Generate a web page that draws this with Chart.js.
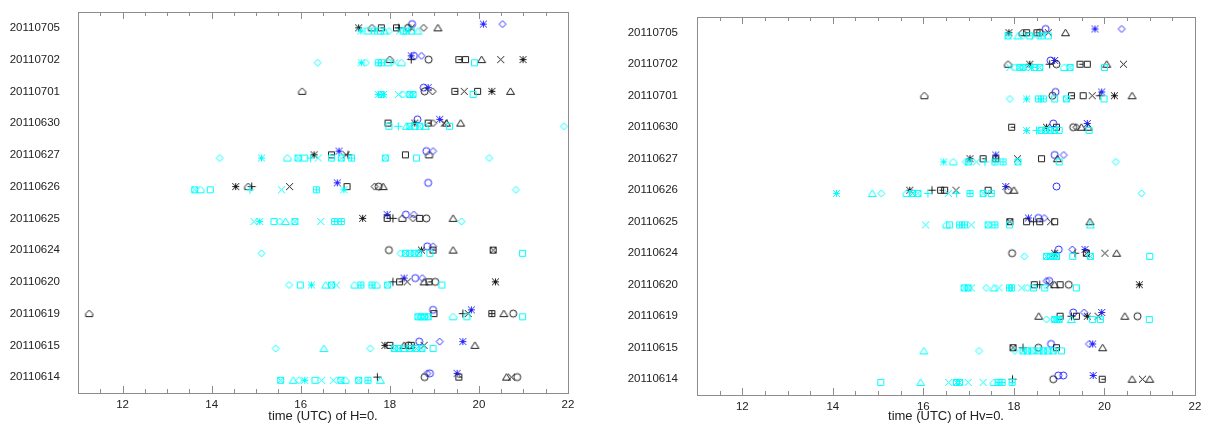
<!DOCTYPE html>
<html lang="en">
   <head>
      <meta charset="UTF-8" />
      <title>Time of H=0 and Hv=0</title>
      <script src="https://cdn.jsdelivr.net/npm/chart.js"></script>
      <style>
         body {
            margin: 0;
            background: #fff;
            overflow: hidden;
         }
         .panel {
            position: absolute;
            top: 0;
            width: 609px;
            height: 423px;
         }
         .a {
            left: 0;
         }
         .b {
            left: 609px;
         }
      </style>
   </head>
   <body>
      <div class="panel a"><canvas id="chartH" width="609" height="423"></canvas></div>
      <div class="panel b"><canvas id="chartHv" width="609" height="423"></canvas></div>
      <script>
         const dates = ['20110705', '20110702', '20110701', '20110630', '20110627', '20110626',
                        '20110625', '20110624', '20110620', '20110619', '20110615', '20110614'];
         const xTicks = [12, 14, 16, 18, 20, 22];

         // time (UTC) of H=0, per date: [symbol, hour]
         const hBlack = [
            ['20110705', [['ast', 17.30], ['house', 17.60], ['sqh', 17.81], ['sqh', 18.15], ['plus', 18.2], ['o', 18.41], ['x', 18.48], ['dia', 18.76], ['tri', 19.08]]],
            ['20110702', [['house', 18.0], ['plus', 18.48], ['o', 18.87], ['sqh', 19.55], ['sq', 19.70], ['tri', 20.06], ['x', 20.49], ['ast', 20.99]]],
            ['20110701', [['house', 16.03], ['o', 18.78], ['dia', 18.96], ['sqh', 19.46], ['x', 19.67], ['sq', 19.97], ['ast', 20.29], ['tri', 20.71]]],
            ['20110630', [['sqh', 17.96], ['ast', 18.56], ['sqh', 18.86], ['dia', 18.97], ['x', 19.22], ['tri', 19.27], ['tri', 19.59]]],
            ['20110627', [['ast', 16.30], ['sqh', 16.69], ['x', 17.02], ['plus', 17.06], ['sq', 18.35], ['house', 18.88]]],
            ['20110626', [['ast', 14.54], ['house', 14.82], ['plus', 14.90], ['x', 15.75], ['sq', 17.04], ['dia', 17.66], ['o', 17.75], ['tri', 17.85]]],
            ['20110625', [['ast', 17.39], ['sqh', 17.94], ['plus', 18.07], ['house', 18.28], ['dia', 18.52], ['sq', 18.67], ['o', 18.82], ['tri', 19.42]]],
            ['20110624', [['o', 17.98], ['ast', 18.71], ['sqh', 18.97], ['tri', 19.42], ['sqx', 20.32]]],
            ['20110620', [['plus', 18.07], ['sqh', 18.22], ['x', 18.39], ['tri', 18.77], ['sqh', 18.88], ['o', 19.02], ['ast', 20.37]]],
            ['20110619', [['house', 11.25], ['sq', 18.99], ['plus', 19.64], ['x', 19.76], ['sqp', 20.29], ['tri', 20.56], ['o', 20.77]]],
            ['20110615', [['ast', 17.89], ['sqh', 18.0], ['tri', 18.32], ['o', 18.42], ['sqh', 18.48], ['x', 18.77], ['tri', 19.91]]],
            ['20110614', [['plus', 17.72], ['o', 18.78], ['sqh', 19.55], ['tri', 20.62], ['x', 20.73], ['o', 20.86]]],
         ];
         const hCyan = [
            ['20110705', [['ast', 17.35], ['sq', 17.51], ['sqp', 17.66], ['sq', 17.79], ['tri', 17.88], ['dia', 17.98], ['x', 18.22], ['sq', 18.30], ['sqp', 18.37], ['sq', 18.48], ['tri', 18.63]]],
            ['20110702', [['dia', 16.38], ['ast', 17.36], ['dia', 17.46], ['sqp', 17.74], ['sqp', 17.81], ['sq', 17.96], ['x', 18.11], ['house', 18.26], ['sq', 19.90]]],
            ['20110701', [['ast', 17.74], ['sqp', 17.81], ['ast', 17.86], ['x', 18.19], ['dia', 18.30], ['sqx', 18.45], ['sqx', 18.52], ['sq', 19.87]]],
            ['20110630', [['sq', 17.98], ['plus', 18.19], ['tri', 18.37], ['sqx', 18.45], ['sq', 18.56], ['sqx', 18.67], ['tri', 18.8], ['sq', 19.34], ['dia', 21.91]]],
            ['20110627', [['dia', 14.18], ['ast', 15.12], ['house', 15.70], ['sqx', 15.94], ['sq', 16.09], ['plus', 16.22], ['x', 16.39], ['sqh', 16.69], ['sqx', 16.91], ['sqp', 17.14], ['sqx', 17.90], ['sq', 18.6], ['dia', 20.23]]],
            ['20110626', [['sqx', 13.62], ['house', 13.75], ['sq', 13.97], ['plus', 14.86], ['x', 15.57], ['sqp', 16.35], ['ast', 16.97], ['dia', 20.83]]],
            ['20110625', [['x', 14.95], ['ast', 15.08], ['sq', 15.40], ['dia', 15.53], ['tri', 15.66], ['sqx', 15.87], ['x', 16.45], ['sqp', 16.76], ['sqp', 16.91], ['dia', 19.61]]],
            ['20110624', [['dia', 15.12], ['dia', 18.24], ['sqx', 18.35], ['sqx', 18.45], ['sqx', 18.56], ['sqx', 18.65], ['sq', 18.9], ['sq', 20.98]]],
            ['20110620', [['dia', 15.74], ['sq', 15.99], ['ast', 16.24], ['tri', 16.56], ['sqx', 16.69], ['x', 16.80], ['house', 17.21], ['sqp', 17.35], ['sqp', 17.60], ['house', 17.70], ['sqx', 17.95], ['sq', 19.17]]],
            ['20110619', [['sqx', 18.63], ['sqx', 18.70], ['sqx', 18.78], ['sqx', 18.86], ['house', 19.42], ['sq', 19.73], ['sq', 20.98]]],
            ['20110615', [['dia', 15.44], ['tri', 16.52], ['dia', 17.56], ['sqx', 18.1], ['sqx', 18.2], ['tri', 18.3], ['sqx', 18.45], ['sqx', 18.6], ['sqx', 18.72], ['sq', 18.97]]],
            ['20110614', [['sqx', 15.55], ['tri', 15.83], ['dia', 15.96], ['ast', 16.09], ['sq', 16.32], ['x', 16.47], ['x', 16.73], ['sqx', 16.90], ['house', 17.0], ['sqx', 17.30], ['sqp', 17.51], ['tri', 17.79]]],
         ];
         const hBlue = [
            ['20110705', [['o', 18.5], ['ast', 20.1], ['dia', 20.53]]],
            ['20110702', [['ast', 18.48], ['o', 18.54], ['dia', 18.71]]],
            ['20110701', [['o', 18.76], ['ast', 18.86]]],
            ['20110630', [['o', 18.62], ['ast', 19.12]]],
            ['20110627', [['ast', 16.86], ['o', 18.82], ['dia', 18.97]]],
            ['20110626', [['ast', 16.82], ['o', 18.86]]],
            ['20110625', [['ast', 17.94], ['o', 18.36], ['dia', 18.54]]],
            ['20110624', [['o', 18.84], ['dia', 18.97]]],
            ['20110620', [['ast', 18.32], ['o', 18.57], ['dia', 18.73]]],
            ['20110619', [['o', 18.97], ['ast', 19.83]]],
            ['20110615', [['o', 18.66], ['dia', 19.12], ['ast', 19.64]]],
            ['20110614', [['dia', 18.84], ['o', 18.9], ['ast', 19.51]]],
         ];

         // time (UTC) of Hv=0
         const hvBlack = [
            ['20110705', [['ast', 17.89], ['house', 18.19], ['sqh', 18.28], ['sqh', 18.51], ['o', 18.57], ['x', 18.76], ['tri', 19.14]]],
            ['20110702', [['house', 17.87], ['ast', 18.35], ['plus', 18.79], ['o', 18.94], ['sqh', 19.46], ['sq', 19.62], ['tri', 20.05], ['x', 20.42]]],
            ['20110701', [['house', 16.02], ['o', 18.85], ['sqh', 19.27], ['sq', 19.53], ['x', 19.73], ['plus', 19.9], ['ast', 20.22], ['tri', 20.61]]],
            ['20110630', [['sqh', 17.95], ['ast', 18.72], ['sqh', 18.94], ['o', 19.31], ['dia', 19.38], ['tri', 19.49], ['tri', 19.64]]],
            ['20110627', [['ast', 17.03], ['sqh', 17.32], ['sqp', 17.6], ['x', 18.08], ['sq', 18.61], ['tri', 18.96]]],
            ['20110626', [['ast', 15.70], ['plus', 16.19], ['sqh', 16.38], ['sq', 16.47], ['x', 16.72], ['sq', 17.43], ['o', 17.87], ['tri', 18.0]]],
            ['20110625', [['sqx', 17.91], ['sq', 18.28], ['plus', 18.43], ['sqh', 18.57], ['x', 18.81], ['sq', 18.9], ['tri', 19.68]]],
            ['20110624', [['o', 17.96], ['ast', 18.9], ['plus', 19.35], ['sqx', 19.6], ['x', 20.01], ['tri', 20.27]]],
            ['20110620', [['sqh', 18.45], ['plus', 18.57], ['x', 18.79], ['tri', 18.90], ['sq', 19.02], ['o', 19.21], ['ast', 20.77]]],
            ['20110619', [['tri', 18.55], ['sqh', 19.02], ['plus', 19.27], ['sq', 19.38], ['ast', 19.62], ['x', 19.86], ['tri', 20.45], ['o', 20.73]]],
            ['20110615', [['sqx', 17.98], ['plus', 18.20], ['o', 18.54], ['sqh', 18.94], ['tri', 19.96]]],
            ['20110614', [['plus', 17.97], ['o', 18.87], ['sqh', 19.95], ['tri', 20.61], ['x', 20.84], ['tri', 21.0]]],
         ];
         const hvCyan = [
            ['20110705', [['sqx', 17.87], ['tri', 18.09], ['dia', 18.2], ['sqh', 18.35], ['x', 18.46], ['sqp', 18.6], ['sq', 18.76]]],
            ['20110702', [['x', 17.91], ['dia', 18.02], ['sqx', 18.13], ['sqx', 18.2], ['dia', 18.31], ['ast', 18.39], ['sqh', 18.46], ['sqx', 18.57], ['house', 19.11], ['sqx', 19.24], ['sq', 20.0]]],
            ['20110701', [['dia', 17.91], ['ast', 18.28], ['sqp', 18.54], ['sqp', 18.65], ['sq', 18.9], ['sqx', 19.16], ['sq', 19.99]]],
            ['20110630', [['ast', 18.28], ['plus', 18.5], ['sqx', 18.6], ['sqx', 18.7], ['sqx', 18.8], ['sqx', 18.9], ['sq', 19.0], ['sq', 19.66]]],
            ['20110627', [['ast', 16.45], ['house', 16.66], ['dia', 16.94], ['sqx', 17.0], ['x', 17.17], ['plus', 17.36], ['sqp', 17.58], ['sqp', 17.76], ['sqx', 18.09], ['sq', 19.0], ['dia', 20.25]]],
            ['20110626', [['ast', 14.08], ['tri', 14.87], ['dia', 15.07], ['house', 15.63], ['sqx', 15.76], ['sqx', 15.88], ['plus', 16.1], ['x', 16.55], ['plus', 16.73], ['sqp', 17.03], ['sqx', 17.32], ['sqh', 17.5], ['dia', 20.82]]],
            ['20110625', [['x', 16.05], ['house', 16.51], ['sq', 16.58], ['sqp', 16.8], ['sqp', 16.91], ['x', 17.06], ['sqx', 17.43], ['sqp', 17.58], ['sq', 17.9], ['tri', 19.69]]],
            ['20110624', [['dia', 18.23], ['sqx', 18.72], ['sqx', 18.8], ['sqx', 18.88], ['sqx', 18.94], ['sq', 19.3], ['sqx', 19.69], ['sq', 21.0]]],
            ['20110620', [['sqx', 16.90], ['sqx', 16.99], ['x', 17.06], ['dia', 17.39], ['tri', 17.56], ['x', 17.67], ['sqp', 17.9], ['sqp', 17.95], ['x', 18.17], ['dia', 18.30], ['sqh', 18.43], ['sqh', 18.68], ['sq', 19.38]]],
            ['20110619', [['dia', 18.72], ['sqx', 18.9], ['sqx', 18.95], ['sqx', 19.0], ['tri', 19.27], ['sq', 19.74], ['sqh', 19.91], ['sq', 20.99]]],
            ['20110615', [['tri', 16.01], ['dia', 17.23], ['dia', 18.02], ['sqx', 18.2], ['sqx', 18.3], ['sqx', 18.4], ['sqx', 18.55], ['sqx', 18.65], ['sqx', 18.75], ['sqx', 18.87], ['sq', 19.05]]],
            ['20110614', [['sq', 15.06], ['tri', 15.94], ['x', 16.56], ['sqx', 16.73], ['sqx', 16.8], ['x', 16.99], ['x', 17.32], ['house', 17.56], ['sqp', 17.65], ['sqp', 17.74], ['sqp', 17.96]]],
         ];
         const hvBlue = [
            ['20110705', [['o', 18.70], ['ast', 19.79], ['dia', 20.38]]],
            ['20110702', [['o', 18.81], ['ast', 18.9]]],
            ['20110701', [['o', 18.92], ['ast', 19.94]]],
            ['20110630', [['o', 18.87], ['ast', 19.62]]],
            ['20110627', [['ast', 17.60], ['o', 18.9], ['dia', 19.1]]],
            ['20110626', [['ast', 17.82], ['o', 18.94]]],
            ['20110625', [['ast', 18.32], ['o', 18.54], ['dia', 18.67]]],
            ['20110624', [['o', 18.99], ['dia', 19.29], ['ast', 19.57]]],
            ['20110620', [['dia', 18.72], ['o', 18.78]]],
            ['20110619', [['o', 19.31], ['dia', 19.55], ['ast', 19.94]]],
            ['20110615', [['o', 18.82], ['dia', 19.66], ['ast', 19.74]]],
            ['20110614', [['o', 18.98], ['o', 19.09], ['ast', 19.75]]],
         ];

         const BLACK = '#1e1e1e';
         const CYAN = '#00ffff';
         const BLUE = '#2b2bff';
         const FRAME = '#8c8c8c';
         const FONT = { family: '"Liberation Sans", Arial, sans-serif', size: 11.5 };
         const TITLE_FONT = { family: '"Liberation Sans", Arial, sans-serif', size: 13, lineHeight: 1 };

         // small symbol images, used as pointStyle
         function makeMarker(code, color) {
            const c = document.createElement('canvas');
            c.width = 11;
            c.height = 11;
            const g = c.getContext('2d');
            g.strokeStyle = color;
            g.lineWidth = 1;
            const m = 5.5;
            const r = 3.5;
            const line = (x1, y1, x2, y2) => {
               g.moveTo(x1, y1);
               g.lineTo(x2, y2);
            };
            const square = () => g.rect(m - r + 0.5, m - r + 0.5, 2 * r - 1, 2 * r - 1);
            g.beginPath();
            switch (code) {
               case 'ast':
                  line(m, m - r, m, m + r);
                  line(m - r, m - r, m + r, m + r);
                  line(m - r, m + r, m + r, m - r);
                  line(m - r, m, m + r, m);
                  break;
               case 'x':
                  line(m - r, m - r, m + r, m + r);
                  line(m - r, m + r, m + r, m - r);
                  break;
               case 'plus':
                  line(m, m - r - 0.5, m, m + r + 0.5);
                  line(m - r - 0.5, m, m + r + 0.5, m);
                  break;
               case 'sq':
                  square();
                  break;
               case 'sqx':
                  square();
                  line(m - r + 0.5, m - r + 0.5, m + r - 0.5, m + r - 0.5);
                  line(m - r + 0.5, m + r - 0.5, m + r - 0.5, m - r + 0.5);
                  break;
               case 'sqp':
                  square();
                  line(m, m - r + 0.5, m, m + r - 0.5);
                  line(m - r + 0.5, m, m + r - 0.5, m);
                  break;
               case 'sqh':
                  square();
                  line(m - 1, m, m + r - 0.5, m);
                  break;
               case 'tri':
                  g.moveTo(m, m - r);
                  g.lineTo(m + r + 0.5, m + r - 0.5);
                  g.lineTo(m - r - 0.5, m + r - 0.5);
                  g.closePath();
                  break;
               case 'house':
                  g.moveTo(m - r, m + r - 0.5);
                  g.lineTo(m + r, m + r - 0.5);
                  g.lineTo(m + r, m);
                  g.lineTo(m, m - r);
                  g.lineTo(m - r, m);
                  g.closePath();
                  break;
               case 'dia':
                  g.moveTo(m, m - r);
                  g.lineTo(m + r, m);
                  g.lineTo(m, m + r);
                  g.lineTo(m - r, m);
                  g.closePath();
                  break;
               default:
                  g.arc(m, m, r, 0, Math.PI * 2);
            }
            g.stroke();
            return c;
         }

         // one dataset for every colour + symbol pair
         function buildDatasets(rows, color, offset) {
            const groups = {};
            rows.forEach(([date, marks]) => {
               const y = dates.indexOf(date) + offset;
               marks.forEach(([code, t]) => {
                  if (!groups[code]) groups[code] = [];
                  groups[code].push({ x: t, y: y });
               });
            });
            return Object.keys(groups).map((code) => ({
               data: groups[code],
               pointStyle: makeMarker(code, color),
               pointRadius: 4,
               showLine: false,
            }));
         }

         // frame and inward tick marks drawn on the x scale
         const framePlugin = {
            id: 'frame',
            afterDraw(chart) {
               const { ctx, chartArea: a } = chart;
               const xs = chart.scales.x;
               ctx.save();
               ctx.strokeStyle = FRAME;
               ctx.lineWidth = 1;
               ctx.strokeRect(Math.round(a.left) + 0.5, Math.round(a.top) + 0.5, Math.round(a.right - a.left), Math.round(a.bottom - a.top));
               ctx.beginPath();
               for (let v = 11.5; v < 22; v += 0.5) {
                  const px = Math.round(xs.getPixelForValue(v)) + 0.5;
                  const len = v % 2 === 0 ? 7 : 4;
                  ctx.moveTo(px, a.top);
                  ctx.lineTo(px, a.top + len);
                  ctx.moveTo(px, a.bottom);
                  ctx.lineTo(px, a.bottom - len);
               }
               ctx.stroke();
               ctx.restore();
            },
         };

         function setupChart(id, title, black, cyan, blue, box) {
            const ctx = document.getElementById(id).getContext('2d');
            const datasets = [].concat(buildDatasets(cyan, CYAN, 0.1), buildDatasets(black, BLACK, 0), buildDatasets(blue, BLUE, -0.12));
            return new Chart(ctx, {
               type: 'scatter',
               data: { datasets: datasets },
               options: {
                  responsive: false,
                  animation: false,
                  events: [],
                  layout: { padding: { top: box.top, right: box.right, left: 0, bottom: 0 } },
                  plugins: { legend: { display: false }, tooltip: { enabled: false } },
                  scales: {
                     x: {
                        type: 'linear',
                        min: 11,
                        max: 22,
                        afterBuildTicks: (s) => {
                           s.ticks = xTicks.map((v) => ({ value: v }));
                        },
                        afterFit: (s) => {
                           s.height = box.xHeight;
                           s.paddingLeft = 0;
                           s.paddingRight = 0;
                        },
                        grid: { display: false, drawTicks: false },
                        border: { display: false },
                        ticks: { color: '#222', font: FONT, padding: 5, maxRotation: 0, autoSkip: false },
                        title: { display: true, text: title, color: '#222', font: TITLE_FONT, padding: { top: 0, bottom: 0 } },
                     },
                     y: {
                        type: 'linear',
                        reverse: true,
                        min: -0.5,
                        max: 11.5,
                        afterBuildTicks: (s) => {
                           s.ticks = dates.map((d, i) => ({ value: i }));
                        },
                        afterFit: (s) => {
                           s.width = box.left;
                           s.paddingTop = 0;
                           s.paddingBottom = 0;
                        },
                        grid: { display: false, drawTicks: false },
                        border: { display: false },
                        ticks: {
                           color: '#222',
                           font: FONT,
                           padding: box.labelGap,
                           autoSkip: false,
                           callback: (v) => dates[v],
                        },
                     },
                  },
               },
               plugins: [framePlugin],
            });
         }

         setupChart('chartH', 'time (UTC) of H=0.', hBlack, hCyan, hBlue, { top: 12, right: 41, left: 78, xHeight: 30, labelGap: 18 });
         setupChart('chartHv', 'time (UTC) of Hv=0.', hvBlack, hvCyan, hvBlue, { top: 17, right: 23, left: 88, xHeight: 28, labelGap: 19 });
      </script>
   </body>
</html>
